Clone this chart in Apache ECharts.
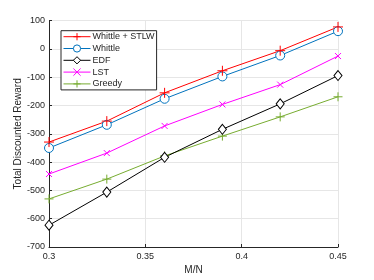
<!DOCTYPE html>
<html><head><meta charset="utf-8">
<script src="https://cdn.jsdelivr.net/npm/echarts@6/dist/echarts.min.js"></script>
<style>html,body{margin:0;padding:0;background:#fff}#c{width:374px;height:280px}</style>
</head><body><div id="c"></div>
<script>
const xValues = [0.3, 0.33, 0.36, 0.39, 0.42, 0.45];
const whittleStlw = [-329, -255, -155, -77, -6, 78];
const whittle = [-350, -268, -176, -97, -23, 63];
const edf = [-623, -506, -383, -284, -194, -94];
const lst = [-442, -368, -272, -196, -126, -25];
const greedy = [-530, -460, -378, -308, -240, -169];
const xTicks = [0.3, 0.35, 0.4, 0.45];
const yTicks = [-700, -600, -500, -400, -300, -200, -100, 0, 100];

const PLUS = 'path://M5,0L5,10M0,5L10,5';
const CROSS = 'path://M0,0L10,10M10,0L0,10';
const DIAM = 'path://M5,0L10,6L5,12L0,6Z';
const font = 'Liberation Sans, Arial, Helvetica, sans-serif';
const txt = '#262626';

function mk(name, vals, color, symbol, size, fill) {
  return {
    name, type: 'line',
    data: xValues.map((x, i) => [x, vals[i]]),
    symbol, symbolSize: size, showAllSymbol: true,
    lineStyle: { color, width: 1 },
    itemStyle: { color: fill || color, borderColor: color, borderWidth: 1 },
    emphasis: { disabled: true },
    animation: false
  };
}

const chart = echarts.init(document.getElementById('c'), null, { renderer: 'canvas' });
chart.setOption({
  animation: false,
  textStyle: { fontFamily: font },
  grid: { left: 49, right: 36, top: 20.7, bottom: 31.3, containLabel: false },
  xAxis: {
    type: 'value', min: xTicks[0], max: xTicks[xTicks.length - 1], interval: 0.05,
    name: 'M/N', nameLocation: 'middle', nameGap: 18, nameMoveOverlap: false,
    nameTextStyle: { color: txt, fontSize: 10, fontFamily: font },
    axisLine: { onZero: false, lineStyle: { color: txt, width: 1 } },
    axisTick: { inside: true, length: 3, lineStyle: { color: txt } },
    axisLabel: { color: txt, fontSize: 9, margin: 5, fontFamily: font,
      formatter: v => String(Math.round(v * 100) / 100) },
    splitLine: { show: true, lineStyle: { color: '#e6e6e6', width: 1 } }
  },
  yAxis: {
    type: 'value', min: yTicks[0], max: yTicks[yTicks.length - 1], interval: 100,
    name: 'Total Discounted Reward', nameLocation: 'middle', nameGap: 26, nameMoveOverlap: false,
    nameTextStyle: { color: txt, fontSize: 10, fontFamily: font },
    axisLine: { show: true, onZero: false, lineStyle: { color: txt, width: 1 } },
    axisTick: { show: true, inside: true, length: 3, lineStyle: { color: txt } },
    axisLabel: { color: txt, fontSize: 9, margin: 4, fontFamily: font },
    splitLine: { show: true, lineStyle: { color: '#e6e6e6', width: 1 } }
  },
  legend: {
    left: 61, top: 30.7, orient: 'vertical',
    itemWidth: 27, itemHeight: 9, itemGap: 2.8,
    backgroundColor: '#fff', borderColor: txt, borderWidth: 1, borderRadius: 0,
    padding: [1.5, 2, 1.5, 2],
    lineStyle: { width: 1 },
    itemStyle: { borderWidth: 1 },
    textStyle: { color: txt, fontSize: 9, lineHeight: 9, fontFamily: font, padding: [0, 0, 0, -3] },
    data: ['Whittle + STLW', 'Whittle', 'EDF', 'LST', 'Greedy']
  },
  series: [
    mk('Greedy', greedy, '#77AC30', PLUS, 9),
    mk('EDF', edf, '#000000', DIAM, [8, 10], '#ffffff'),
    mk('LST', lst, '#FF00FF', CROSS, 6),
    mk('Whittle', whittle, '#0072BD', 'circle', 9, '#ffffff'),
    mk('Whittle + STLW', whittleStlw, '#FF0000', PLUS, 10)
  ]
});
</script></body></html>
